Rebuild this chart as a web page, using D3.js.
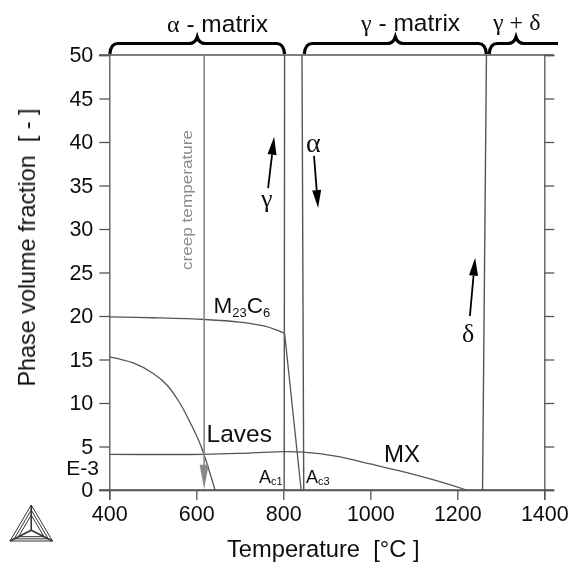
<!DOCTYPE html>
<html><head><meta charset="utf-8">
<script src="https://cdn.jsdelivr.net/npm/d3@7"></script>
<style>html,body{margin:0;padding:0;background:#fff}svg{display:block}text{font-family:"Liberation Sans",Arial,sans-serif;fill:#111}</style>
</head><body><svg id="c" width="574" height="563"></svg>
<script>
const xTicks=[400,600,800,1000,1200,1400];
const yTicks=[0,5,10,15,20,25,30,35,40,45,50];
const m23Temp=[400,500,620,700,760,803,841];
const m23Val=[19.9,19.8,19.6,19.3,18.8,18,0];
const lavesTemp=[400,455,501,532,562,585,605,618,643];
const lavesVal=[15.3,14.6,13.4,12.1,10,7.85,5.75,4.05,0];
const mxTemp=[400,618,720,803,845,920,1000,1068,1150,1221];
const mxVal=[4.1,4.1,4.25,4.4,4.35,3.9,3.0,2.2,1.1,0];
const boundaryAlpha=[[803,50],[802,0]];
const boundaryGamma=[[843,50],[847,0]];
const boundaryDelta=[[1267,50],[1258,0]];
const creepTemp=618;
const braces=[{a:400,b:803},{a:847,b:1267},{a:1272,b:1432,open:true}];

const x=d3.scaleLinear().domain([400,1400]).range([109.3,544.3]);
const y=d3.scaleLinear().domain([0,50]).range([490,55]);
const svg=d3.select("#c");
const ink="#555";
const defs=svg.append("defs");
defs.append("filter").attr("id","soft").append("feGaussianBlur").attr("stdDeviation",0.35);
const g=svg.append("g").attr("filter","url(#soft)");

const ax=g.append("g").attr("transform","translate(0,490)").call(d3.axisBottom(x).tickValues(xTicks).tickSize(10).tickPadding(4).tickFormat(d3.format("d")));
const ayl=g.append("g").attr("transform","translate(109.3,0)").call(d3.axisLeft(y).tickValues(yTicks).tickSize(10).tickPadding(6));
const ayr=g.append("g").attr("transform","translate(544.3,0)").call(d3.axisRight(y).tickValues(yTicks).tickSize(10).tickFormat(""));
[ax,ayl,ayr].forEach(a=>{a.selectAll(".tick line").attr("stroke",ink).attr("stroke-width",1.3);
  a.select(".domain").attr("stroke",ink).attr("stroke-width",1.3);
  a.selectAll("text").style("font-size","21.5px").attr("fill","#111");});
ax.selectAll("text").attr("dy","0.8em");
g.selectAll("line.fr").data([0,50]).join("line").attr("x1",99).attr("x2",554).attr("y1",d=>y(d)).attr("y2",d=>y(d)).attr("stroke",ink).attr("stroke-width",1.3);

const line=d3.line().x(d=>x(d[0])).y(d=>y(d[1]));
const curve=d3.line().x(d=>x(d[0])).y(d=>y(d[1])).curve(d3.curveCatmullRom.alpha(0.5));
[boundaryAlpha,boundaryGamma,boundaryDelta].forEach(b=>g.append("path").attr("d",line(b)).attr("fill","none").attr("stroke",ink).attr("stroke-width",1.4));
const m23=d3.zip(m23Temp,m23Val);
g.append("path").attr("d",curve(m23.slice(0,6))).attr("fill","none").attr("stroke",ink).attr("stroke-width",1.3);
g.append("path").attr("d",line(m23.slice(5))).attr("fill","none").attr("stroke",ink).attr("stroke-width",1.3);
[[lavesTemp,lavesVal],[mxTemp,mxVal]].forEach(([t,v])=>g.append("path").attr("d",curve(d3.zip(t,v))).attr("fill","none").attr("stroke",ink).attr("stroke-width",1.3));

g.append("path").attr("d",line([[creepTemp,50],[creepTemp,1]])).attr("stroke","#888").attr("stroke-width",1.6).attr("fill","none");
g.append("path").attr("d",`M${x(creepTemp)-4.5},${y(2.9)}L${x(creepTemp)+4.5},${y(2.9)}L${x(creepTemp)},${y(0.1)}Z`).attr("fill","#888");

function arrow(a,b,w,h){
  const x0=x(a[0]),y0=y(a[1]),x1=x(b[0]),y1=y(b[1]);
  const l=Math.hypot(x1-x0,y1-y0),ux=(x1-x0)/l,uy=(y1-y0)/l,bx=x1-ux*h,by=y1-uy*h;
  g.append("line").attr("x1",x0).attr("y1",y0).attr("x2",bx).attr("y2",by).attr("stroke","#000").attr("stroke-width",1.8);
  g.append("path").attr("d",`M${x1},${y1}L${bx-uy*w},${by+ux*w}L${bx+uy*w},${by-ux*w}Z`).attr("fill","#000");
}
arrow([765,34.7],[779,40.6],4.5,18);
arrow([870.6,38.4],[880,32.4],4.5,18);
arrow([1229,20],[1241,26.7],4.5,18);

function brace(b){
  const x0=x(b.a)+0.5,x1=b.open?558:x(b.b),m=b.open?516:(x0+x1)/2,yb=y(50)-1,yt=43.5,yp=37;
  let d=`M${x0},${yb}Q${x0+1},${yt} ${x0+8},${yt}L${m-8},${yt}Q${m-2},${yt} ${m},${yp}Q${m+2},${yt} ${m+8},${yt}L${x1-(b.open?0:8)},${yt}`;
  if(!b.open)d+=`Q${x1-1},${yt} ${x1},${yb}`;
  g.append("path").attr("d",d).attr("fill","none").attr("stroke","#000").attr("stroke-width",3.2);
}
braces.forEach(brace);

function txt(px,py,parts,anchor){
  const t=g.append("text").attr("x",px).attr("y",py).attr("text-anchor",anchor||"start").attr("xml:space","preserve");
  parts.forEach(p=>{const s=t.append("tspan").text(p.s).style("font-size",(p.z||21)+"px");
    if(p.serif)s.style("font-family",'"Liberation Serif",serif');
    if(p.dy)s.attr("dy",p.dy);});
  return t;
}
txt(167,32,[{s:"α",serif:1,z:24},{s:" - matrix",z:24.5}]);
txt(361,31,[{s:"γ",serif:1,z:24},{s:" - matrix",z:24.5}]);
txt(493,30,[{s:"γ + δ",serif:1,z:24}]);
txt(213.5,313,[{s:"M",z:22.5},{s:"23",z:13,dy:4},{s:"C",z:22.5,dy:-4},{s:"6",z:13,dy:4}]);
txt(206.5,442,[{s:"Laves",z:24.5}]);
txt(384,462,[{s:"MX",z:24}]);
txt(259,483,[{s:"A",z:18},{s:"c1",z:11,dy:2}]);
txt(306,483,[{s:"A",z:18},{s:"c3",z:11,dy:2}]);
txt(261,207,[{s:"γ",serif:1,z:26}]);
txt(306,152,[{s:"α",serif:1,z:28}]);
txt(462,342,[{s:"δ",serif:1,z:26}]);
txt(99,475,[{s:"E-3",z:21}],"end");
g.append("text").attr("transform","translate(192,270) rotate(-90)").style("font-size","15px").style("fill","#8a8a8a").attr("textLength",140).attr("lengthAdjust","spacingAndGlyphs").text("creep temperature");
g.append("text").attr("transform","translate(35,247.5) rotate(-90)").attr("text-anchor","middle").style("font-size","23.4px").attr("xml:space","preserve").text("Phase volume fraction  [ - ]");
g.append("text").attr("x",227).attr("y",557).style("font-size","23.7px").attr("xml:space","preserve").text("Temperature  [°C ]");

const logo=g.append("g").attr("fill","none").attr("stroke","#333").attr("stroke-width",1);
const lx=d3.scaleLinear().domain([0,1]).range([10,52.5]),ly=d3.scaleLinear().domain([0,1]).range([541,505]);
const tri=[[0,0],[1,0],[.5,1]];
const ctr=[.5,.3];
const ll=d3.line().x(d=>lx(d[0])).y(d=>ly(d[1]));
logo.append("path").attr("d",ll(tri)+"Z");
[.8,.6].forEach(k=>{
  const inner=tri.map(p=>[ctr[0]+(p[0]-ctr[0])*k,ctr[1]+(p[1]-ctr[1])*k]);
  logo.append("path").attr("d",ll(inner)+"Z");
});
tri.forEach(p=>logo.append("line").attr("x1",lx(p[0])).attr("y1",ly(p[1])).attr("x2",lx(ctr[0])).attr("y2",ly(ctr[1])).attr("stroke-width",1.6));
</script></body></html>
